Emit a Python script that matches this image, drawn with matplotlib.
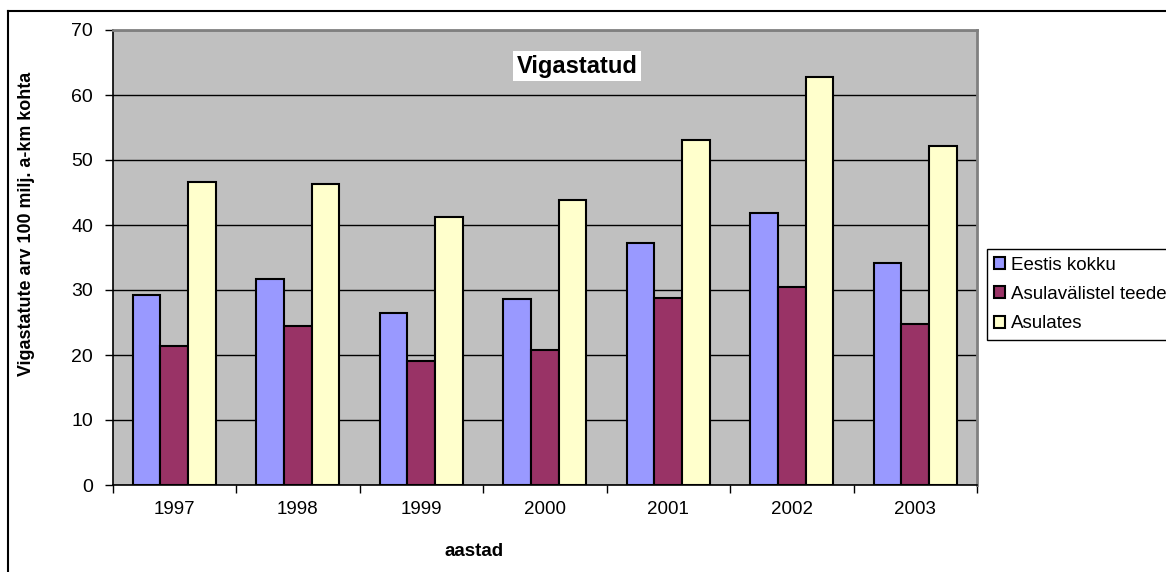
import matplotlib
matplotlib.use("Agg")
import matplotlib.pyplot as plt
from matplotlib.lines import Line2D
import numpy as np

plt.rcParams['font.family'] = ['Liberation Sans', 'DejaVu Sans']

years = ["1997", "1998", "1999", "2000", "2001", "2002", "2003"]
eestis_kokku = [29.2, 31.7, 26.4, 28.6, 37.3, 41.8, 34.2]
asulavalistel = [21.4, 24.5, 19.1, 20.7, 28.8, 30.4, 24.8]
asulates = [46.6, 46.3, 41.3, 43.8, 53.1, 62.8, 52.2]
series_names = ["Eestis kokku", "Asulavälistel teede", "Asulates"]
colors = ["#9999FF", "#993366", "#FFFFCC"]

W, H = 1166, 572
fig = plt.figure(figsize=(W / 100, H / 100), dpi=100)
ax = fig.add_axes([112.5 / W, 1 - 485 / H, (977 - 112.5) / W, (485 - 30) / H])
ax.set_facecolor("#C0C0C0")

x = np.arange(len(years))
bw = 0.224
handles = []
for i, (vals, c, name) in enumerate(zip([eestis_kokku, asulavalistel, asulates], colors, series_names)):
    b = ax.bar(x + (i - 1) * bw, vals, width=bw, color=c, edgecolor="black",
               linewidth=1.5, label=name, zorder=3)
    handles.append(b)

ax.set_xlim(-0.5, len(years) - 0.5)
ax.set_ylim(0, 70)
ax.set_yticks(range(0, 71, 10))
ax.yaxis.grid(True, color="black", linewidth=1.0, zorder=1)
ax.set_axisbelow(True)

ax.set_xticks(np.arange(-0.5, len(years), 1.0))
ax.set_xticklabels([])
ax.set_xticks(x, minor=True)
ax.set_xticklabels(years, minor=True)
ax.tick_params(axis="x", which="major", direction="out", length=6, width=1, color="black")
ax.tick_params(axis="x", which="minor", length=0, pad=11.5, labelsize=13.5)
ax.tick_params(axis="y", direction="out", length=6, width=1, pad=8, labelsize=14)

for s in ["top", "right"]:
    ax.spines[s].set_color("#808080")
    ax.spines[s].set_linewidth(2)
for s in ["left", "bottom"]:
    ax.spines[s].set_color("black")
    ax.spines[s].set_linewidth(1.2)

ax.set_ylabel("Vigastatute arv 100 milj. a-km kohta", fontsize=12.9, fontweight="bold")
ax.yaxis.set_label_coords((35 - 112.5) / 864.5, (485 - 224) / 455)
ax.set_xlabel("aastad", fontsize=13.5, fontweight="bold")
ax.xaxis.set_label_coords((474 - 112.5) / 864.5, (485 - 543) / 455)

fig.text(577 / W, 1 - 66 / H, "Vigastatud", fontsize=17, fontweight="bold",
         ha="center", va="center",
         bbox=dict(boxstyle="square,pad=0.15", facecolor="white", edgecolor="none"))

leg = fig.legend(handles=handles, labels=series_names, loc="upper left",
                 bbox_to_anchor=(986.7 / W, 1 - 249.3 / H), fontsize=13.5,
                 frameon=True, fancybox=False, edgecolor="black", framealpha=1,
                 handlelength=0.6, handleheight=0.6, handletextpad=0.3,
                 borderpad=0.4, labelspacing=0.65, borderaxespad=0)
leg.get_frame().set_linewidth(1.0)

fig.add_artist(Line2D([8 / W, 8 / W], [0, 1 - 11 / H], color="black", linewidth=1.5,
                      transform=fig.transFigure))
fig.add_artist(Line2D([8 / W, 1], [1 - 11 / H, 1 - 11 / H], color="black", linewidth=1.5,
                      transform=fig.transFigure))

fig.savefig("out.png", dpi=100, facecolor="white")
